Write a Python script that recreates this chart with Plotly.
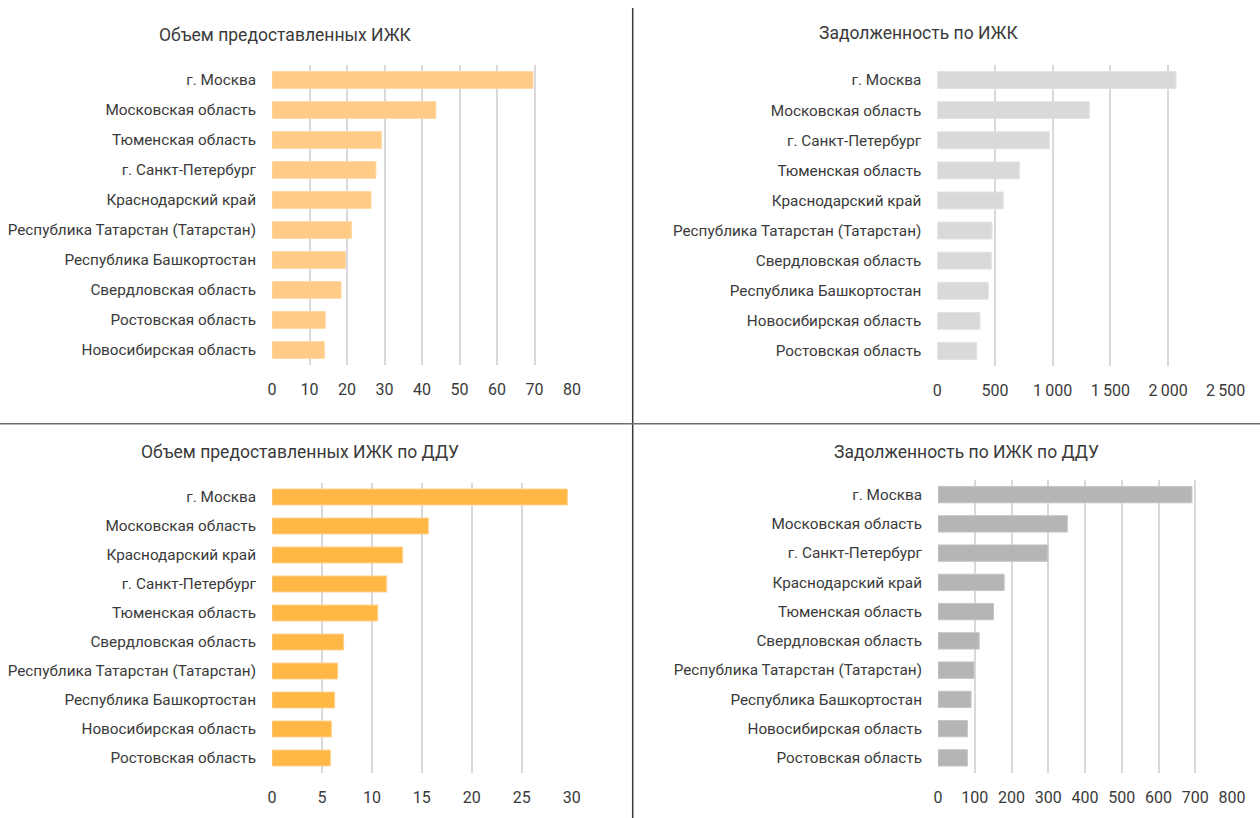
import plotly.graph_objects as go

# Panel 1: Объем предоставленных ИЖК
regions1 = ["г. Москва", "Московская область", "Тюменская область", "г. Санкт-Петербург",
            "Краснодарский край", "Республика Татарстан (Татарстан)", "Республика Башкортостан",
            "Свердловская область", "Ростовская область", "Новосибирская область"]
values1 = [69.6, 43.7, 29.2, 27.7, 26.4, 21.2, 19.6, 18.4, 14.2, 14.0]

# Panel 2: Задолженность по ИЖК
regions2 = ["г. Москва", "Московская область", "г. Санкт-Петербург", "Тюменская область",
            "Краснодарский край", "Республика Татарстан (Татарстан)", "Свердловская область",
            "Республика Башкортостан", "Новосибирская область", "Ростовская область"]
values2 = [2069, 1318, 971, 711, 572, 474, 468, 442, 370, 341]

# Panel 3: Объем предоставленных ИЖК по ДДУ
regions3 = ["г. Москва", "Московская область", "Краснодарский край", "г. Санкт-Петербург",
            "Тюменская область", "Свердловская область", "Республика Татарстан (Татарстан)",
            "Республика Башкортостан", "Новосибирская область", "Ростовская область"]
values3 = [29.56, 15.65, 13.08, 11.48, 10.58, 7.17, 6.57, 6.27, 5.94, 5.84]

# Panel 4: Задолженность по ИЖК по ДДУ
regions4 = ["г. Москва", "Московская область", "г. Санкт-Петербург", "Краснодарский край",
            "Тюменская область", "Свердловская область", "Республика Татарстан (Татарстан)",
            "Республика Башкортостан", "Новосибирская область", "Ростовская область"]
values4 = [691, 352, 299, 180, 151, 112, 98, 90, 80, 80]

titles = ["Объем предоставленных ИЖК", "Задолженность по ИЖК",
          "Объем предоставленных ИЖК по ДДУ", "Задолженность по ИЖК по ДДУ"]
ticks1 = [0, 10, 20, 30, 40, 50, 60, 70, 80]
ticks2 = [0, 500, 1000, 1500, 2000, 2500]
tick2_text = ["0", "500", "1\u2009000", "1\u2009500", "2\u2009000", "2\u2009500"]
ticks3 = [0, 5, 10, 15, 20, 25, 30]
ticks4 = [0, 100, 200, 300, 400, 500, 600, 700, 800]

W, H = 1260, 818
FONT = "Roboto"
TXT = "#3a3a3a"

def px_x(a, b):
    return [a / W, b / W]

def px_y(top, bottom):
    return [1 - bottom / H, 1 - top / H]

panels = [
    dict(cat=regions1, val=values1, color="#FFCB87", line="#FFD9A6", xd=px_x(272, 572), yd=px_y(65, 365),
         rng=[0, 80], tv=ticks1, tt=[str(t) for t in ticks1], width=0.56),
    dict(cat=regions2, val=values2, color="#D9D9D9", line="#E2E2E2", xd=px_x(937.3, 1225.7), yd=px_y(65, 366),
         rng=[0, 2500], tv=ticks2, tt=tick2_text, width=0.56),
    dict(cat=regions3, val=values3, color="#FFB845", line="#FFD08A", xd=px_x(272, 571.7), yd=px_y(482.5, 772.5),
         rng=[0, 30], tv=ticks3, tt=[str(t) for t in ticks3], width=0.55),
    dict(cat=regions4, val=values4, color="#B4B5B7", line="#C4C5C7", xd=px_x(938, 1232), yd=px_y(480, 772.5),
         rng=[0, 800], tv=ticks4, tt=[str(t) for t in ticks4], width=0.56),
]

fig = go.Figure()
for i, p in enumerate(panels, start=1):
    suffix = "" if i == 1 else str(i)
    fig.add_trace(go.Bar(
        x=p["val"], y=p["cat"], orientation="h",
        marker=dict(color=p["color"], line=dict(color=p["line"], width=1)),
        width=p["width"], xaxis="x" + suffix, yaxis="y" + suffix,
        showlegend=False, hoverinfo="x+y",
    ))
    fig.update_layout(**{
        "xaxis" + suffix: dict(
            domain=p["xd"], range=p["rng"], tickvals=p["tv"], ticktext=p["tt"],
            showgrid=True, gridcolor="#D9D9D9", gridwidth=2, zeroline=False,
            showline=False, anchor="y" + suffix, ticklabelstandoff=13, automargin=False,
            tickfont=dict(family=FONT, size=16, color=TXT), fixedrange=True,
        ),
        "yaxis" + suffix: dict(
            domain=p["yd"], categoryorder="array", categoryarray=p["cat"],
            autorange="reversed", showgrid=False, zeroline=False, showline=False,
            anchor="x" + suffix, ticklabelstandoff=15, automargin=False,
            tickfont=dict(family=FONT, size=15.3, color=TXT), fixedrange=True,
        ),
    })

title_pos = [(285, 35), (918, 33), (300, 452), (966, 452)]
annotations = []
for t, (x, y) in zip(titles, title_pos):
    annotations.append(dict(text=t, x=x / W, y=1 - y / H, xref="paper", yref="paper",
                            showarrow=False, xanchor="center", yanchor="middle",
                            font=dict(family=FONT, size=17.5, color=TXT)))

shapes = [
    dict(type="line", xref="paper", yref="paper", x0=632.7 / W, x1=632.7 / W, y0=0, y1=1 - 8 / H,
         line=dict(color="#3a3a3a", width=1.5)),
    dict(type="line", xref="paper", yref="paper", x0=0, x1=1, y0=1 - 423.7 / H, y1=1 - 423.7 / H,
         line=dict(color="#6f6f6f", width=1.5)),
]

fig.update_layout(
    width=W, height=H, margin=dict(l=0, r=0, t=0, b=0, autoexpand=False),
    paper_bgcolor="white", plot_bgcolor="white",
    annotations=annotations, shapes=shapes, bargap=0.45,
    font=dict(family=FONT, color=TXT),
)

fig.write_html(
    "out.html",
    config={"responsive": False, "displayModeBar": False},
    post_script="document.body.style.margin='0';document.body.style.padding='0';"
                "document.body.style.overflow='hidden';",
)
